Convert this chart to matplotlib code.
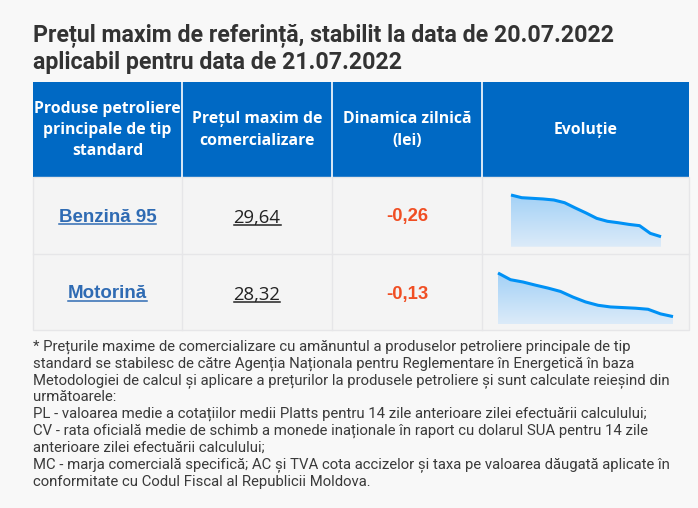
import matplotlib.pyplot as plt
import numpy as np
from matplotlib import font_manager
from matplotlib.patches import Rectangle
from matplotlib.colors import LinearSegmentedColormap

# data
products = ['Benzină 95', 'Motorină']
prices = ['29,64', '28,32']
changes = ['-0,26', '-0,13']
benzina_trend = [32.89, 32.68, 32.63, 32.58, 32.50, 32.29, 31.88, 31.49,
                 31.07, 30.84, 30.73, 30.60, 30.50, 29.90, 29.64]
motorina_trend = [30.40, 30.08, 29.97, 29.82, 29.68, 29.52, 29.25, 29.02,
                  28.86, 28.78, 28.75, 28.72, 28.67, 28.45, 28.32]
headers = ['Produse petroliere\nprincipale de tip\nstandard',
           'Prețul maxim de\ncomercializare',
           'Dinamica zilnică\n(lei)',
           'Evoluție']
title_lines = ['Prețul maxim de referință, stabilit la data de 20.07.2022',
               'aplicabil pentru data de 21.07.2022']
notes = [
    '* Prețurile maxime de comercializare cu amănuntul a produselor petroliere principale de tip',
    'standard se stabilesc de către Agenția Naționala pentru Reglementare în Energetică în baza',
    'Metodologiei de calcul și aplicare a prețurilor la produsele petroliere și sunt calculate reieșind din',
    'următoarele:',
    'PL - valoarea medie a cotațiilor medii Platts pentru 14 zile anterioare zilei efectuării calculului;',
    'CV - rata oficială medie de schimb a monede inaționale în raport cu dolarul SUA pentru 14 zile',
    'anterioare zilei efectuării calculului;',
    'MC - marja comercială specifică; AC și TVA cota accizelor și taxa pe valoarea dăugată aplicate în',
    'conformitate cu Codul Fiscal al Republicii Moldova.',
]

available = {f.name for f in font_manager.fontManager.ttflist}
narrow = 'Roboto' if 'Roboto' in available else 'Liberation Sans'
head_font = 'Open Sans' if 'Open Sans' in available else 'DejaVu Sans'

W, H = 698, 508
fig = plt.figure(figsize=(W / 100, H / 100), dpi=100)
fig.patch.set_facecolor('#f8f8f8')
ax = fig.add_axes([0, 0, 1, 1])
ax.set_xlim(0, W)
ax.set_ylim(H, 0)
ax.axis('off')

# table layout (pixels)
cols = [33, 182, 332, 482, 689]
head_top, head_bot = 82, 177
rows = [177, 254, 330]
blue = '#0069c4'
grid = '#e6e6e8'

ax.add_patch(Rectangle((cols[0], head_top), cols[-1] - cols[0], head_bot - head_top,
                       facecolor=blue, edgecolor='none'))
ax.add_patch(Rectangle((cols[0], rows[0]), cols[-1] - cols[0], rows[-1] - rows[0],
                       facecolor='#f4f4f4', edgecolor=grid, lw=1))
for x in cols[1:-1]:
    ax.plot([x, x], [head_top, head_bot], color='white', lw=1.2)
    ax.plot([x, x], [rows[0], rows[-1]], color=grid, lw=1)
ax.plot([cols[0], cols[-1]], [rows[1], rows[1]], color=grid, lw=1)

# title
t1 = ax.text(33, 36, title_lines[0], fontsize=15, fontweight='bold', family=narrow,
             color='#333333', va='center', ha='left')
t2 = ax.text(33, 62, title_lines[1], fontsize=15, fontweight='bold', family=narrow,
             color='#333333', va='center', ha='left')

# headers
centers = [(cols[i] + cols[i + 1]) / 2 for i in range(4)]
head_texts = []
for c, h in zip(centers, headers):
    ht = ax.text(c, 130, h, fontsize=11, fontweight='bold', family=head_font,
                 color='white', ha='center', va='center', linespacing=1.45)
    head_texts.append(ht)

# rows (baselines)
base_y = [221.5, 298.5]
prod_t, price_t, chg_t = [], [], []
for i in range(2):
    p = ax.text(centers[0], base_y[i], products[i], fontsize=12.5, fontweight='bold',
                family='Liberation Sans', color='#2f6bb3', ha='center', va='baseline')
    v = ax.text(centers[1], base_y[i] + 1.5, prices[i], fontsize=13, family=head_font,
                color='#222222', ha='center', va='baseline')
    d = ax.text(centers[2], base_y[i], changes[i], fontsize=13.5, fontweight='bold',
                family='Liberation Sans', color='#f04e23', ha='center', va='baseline')
    prod_t.append(p)
    price_t.append(v)
    chg_t.append(d)

# footnote
note_texts = []
for k, line in enumerate(notes):
    nt = ax.text(33, 346.5 + k * 16.9, line, fontsize=10.5, family=narrow,
                 color='#3a3a3a', ha='left', va='center')
    note_texts.append(nt)

# fit text widths to reference
fig.canvas.draw()
r = fig.canvas.get_renderer()


def fit(t, width):
    w = t.get_window_extent(r).width
    return t.get_fontsize() * width / w


s = fit(t1, 583)
t1.set_fontsize(s)
t2.set_fontsize(s)
s = fit(head_texts[0], 145)
for ht in head_texts:
    ht.set_fontsize(s)
s = fit(note_texts[0], 600)
for nt in note_texts:
    nt.set_fontsize(s)
s = fit(prod_t[0], 98)
for t in prod_t:
    t.set_fontsize(s)
s = fit(price_t[0], 47)
for t in price_t:
    t.set_fontsize(s)
s = fit(chg_t[0], 42)
for t in chg_t:
    t.set_fontsize(s)

fig.canvas.draw()
inv = ax.transData.inverted()
for ts, col, off in [(prod_t, '#2f6bb3', 2.5), (price_t, '#222222', 1.5)]:
    for t in ts:
        bb = t.get_window_extent(r)
        (x0, _), (x1, _) = inv.transform([(bb.x0, bb.y0), (bb.x1, bb.y1)])
        y = t.get_position()[1] + off
        ax.plot([x0, x1], [y, y], color=col, lw=1.1)

# sparklines
cmap = LinearSegmentedColormap.from_list('fill', ['#a3d1f6', '#dcebf9'])
sparks = [(benzina_trend, (511, 661, 195, 246.7), 0.24),
          (motorina_trend, (498, 673, 273, 324), 0.17)]
for vals, (x0, x1, y0, y1), frac in sparks:
    sa = fig.add_axes([x0 / W, 1 - y1 / H, (x1 - x0) / W, (y1 - y0) / H])
    sa.axis('off')
    vals = np.array(vals)
    xs = np.arange(len(vals))
    base = vals.min() - frac * (vals.max() - vals.min())
    poly = sa.fill_between(xs, vals, base, color='none', lw=0)
    grad = np.linspace(0, 1, 100).reshape(-1, 1)
    im = sa.imshow(grad, cmap=cmap, aspect='auto',
                   extent=[0, len(vals) - 1, base, vals.max()], origin='upper')
    im.set_clip_path(poly.get_paths()[0], transform=sa.transData)
    sa.plot(xs, vals, color='#0091f5', lw=2.2, clip_on=False, solid_capstyle='butt')
    sa.set_xlim(0, len(vals) - 1)
    sa.set_ylim(base, vals.max())

fig.savefig('out.png', dpi=100, facecolor=fig.get_facecolor())
